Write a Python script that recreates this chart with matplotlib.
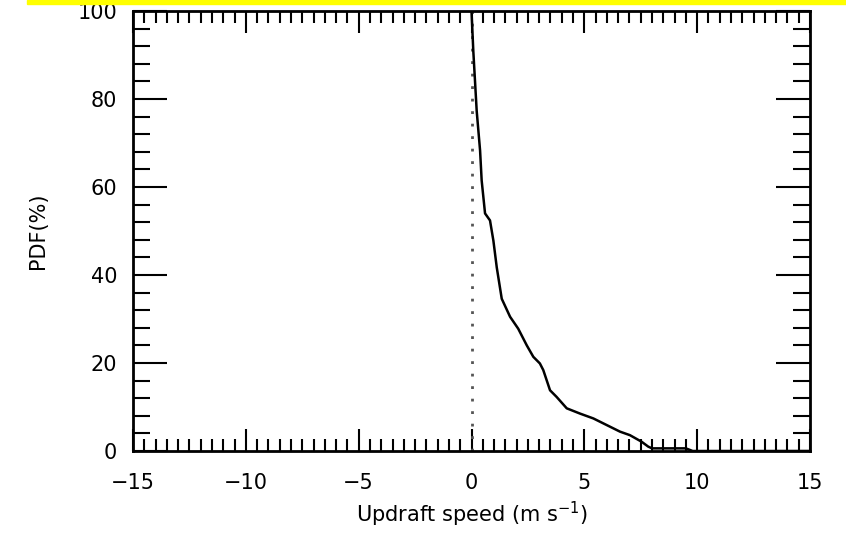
import matplotlib
matplotlib.use("Agg")
import matplotlib.pyplot as plt
from matplotlib.patches import Rectangle
from matplotlib.ticker import MultipleLocator

# cumulative PDF of updraft speed
speed = [0.0, 0.08, 0.23, 0.38, 0.45, 0.6, 0.82, 0.97, 1.12, 1.34, 1.71, 2.07,
         2.45, 2.74, 3.03, 3.18, 3.48, 3.77, 4.22, 4.81, 5.4, 5.99, 6.58, 7.02,
         7.54, 7.83, 8.0, 9.5, 9.8, 15.0]
pdf = [100.0, 90.9, 77.3, 68.3, 61.5, 54.0, 52.4, 47.8, 41.7, 34.6, 30.5, 27.8,
       24.0, 21.4, 19.9, 18.4, 13.8, 12.3, 9.7, 8.5, 7.4, 5.9, 4.4, 3.6,
       2.1, 1.0, 0.6, 0.6, 0.0, 0.0]

plt.rcParams['font.family'] = ['DejaVu Sans']

fig = plt.figure(figsize=(8.46, 5.42), dpi=100)
ax = fig.add_axes([133 / 846, 1 - 451 / 542, 677 / 846, 440 / 542])

# yellow strip across the top
fig.patches.append(Rectangle((27 / 846, 1 - 4 / 542), 1, 4 / 542,
                             transform=fig.transFigure, color='yellow'))

ax.plot([0, 0], [0, 100], color='#555555', linestyle=(0, (1, 3.5)), linewidth=2)
ax.plot(speed, pdf, color='black', linewidth=1.8)

ax.set_xlim(-15, 15)
ax.set_ylim(0, 100)
ax.xaxis.set_major_locator(MultipleLocator(5))
ax.xaxis.set_minor_locator(MultipleLocator(0.5))
ax.yaxis.set_major_locator(MultipleLocator(20))
ax.yaxis.set_minor_locator(MultipleLocator(4))

ax.tick_params(which='both', direction='in', top=True, right=True,
               labelsize=15, width=1.5, color='black')
ax.tick_params(axis='x', which='major', length=15.5, pad=16)
ax.tick_params(axis='x', which='minor', length=8.5)
ax.tick_params(axis='y', which='major', length=24.5, pad=11.5)
ax.tick_params(axis='y', which='minor', length=12)
for s in ax.spines.values():
    s.set_linewidth(2)

ax.set_xlabel("Updraft speed (m s$^{-1}$)", fontsize=15, labelpad=5)
ax.set_ylabel("PDF(%)", fontsize=15, labelpad=21)

plt.savefig("out.png", dpi=100)
